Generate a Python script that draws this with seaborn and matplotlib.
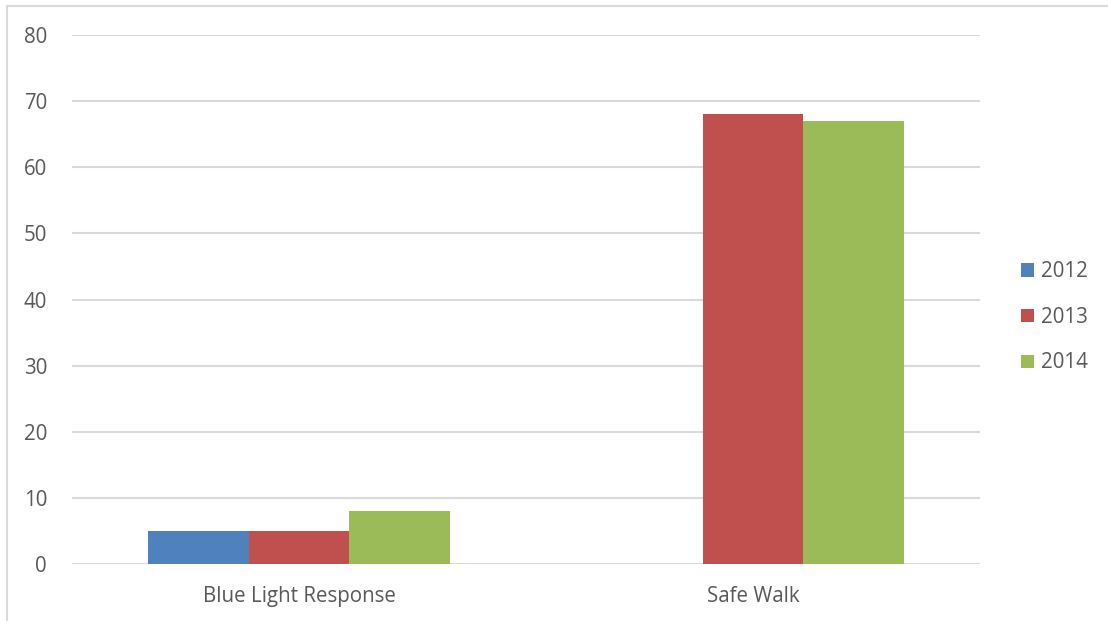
import numpy as np
import pandas as pd
import matplotlib
matplotlib.use("Agg")
import matplotlib.pyplot as plt
import seaborn as sns
from matplotlib.patches import Patch
from matplotlib.lines import Line2D

#data
categories = ["Blue Light Response", "Safe Walk"]
years = ["2012", "2013", "2014"]
vals_2012 = [5, 0]
vals_2013 = [5, 68]
vals_2014 = [8, 67]

colores = ["#4F81BD", "#C0504D", "#9BBB59"]
gris = "#595959"

df = pd.DataFrame({
    "cat": categories * 3,
    "year": [y for y in years for _ in categories],
    "val": vals_2012 + vals_2013 + vals_2014,
})

sns.set_theme(style="white")
plt.rcParams["font.family"] = ["Open Sans", "DejaVu Sans"]

fig = plt.figure(figsize=(11.08, 6.21), dpi=100)
ax = fig.add_axes([0.065, 0.0918, 0.8195, 0.8518])

sns.barplot(data=df, x="cat", y="val", hue="year", palette=colores,
            width=0.667, gap=0, saturation=1, ax=ax, legend=False,
            linewidth=0)

ax.set_ylim(0, 80)
ax.set_xlim(-0.5, 1.5)
ax.set_yticks(range(0, 81, 10))
ax.yaxis.grid(True, color="#D9D9D9", linewidth=1.5)
ax.set_axisbelow(True)
for s in ax.spines.values():
    s.set_visible(False)
ax.set_xlabel("")
ax.set_ylabel("")
ax.tick_params(axis="both", length=0, labelsize=14.8, colors=gris)
ax.tick_params(axis="y", pad=18)
ax.tick_params(axis="x", pad=16)

# legend
handles = [Patch(facecolor=c, edgecolor="none") for c in colores]
leg = fig.legend(handles, years, loc="center left", bbox_to_anchor=(0.9048, 0.489),
                 frameon=False, fontsize=14.8, handlelength=0.63, handleheight=0.63,
                 handletextpad=0.34, labelspacing=1.2)
for t in leg.get_texts():
    t.set_color(gris)

# chart border (left and top)
fig.add_artist(Line2D([0.006, 0.006], [0, 0.99], color="#D9D9D9", linewidth=1.5,
                      transform=fig.transFigure))
fig.add_artist(Line2D([0.006, 1.0], [0.99, 0.99], color="#D9D9D9", linewidth=1.5,
                      transform=fig.transFigure))

plt.savefig("out.png", dpi=100)
